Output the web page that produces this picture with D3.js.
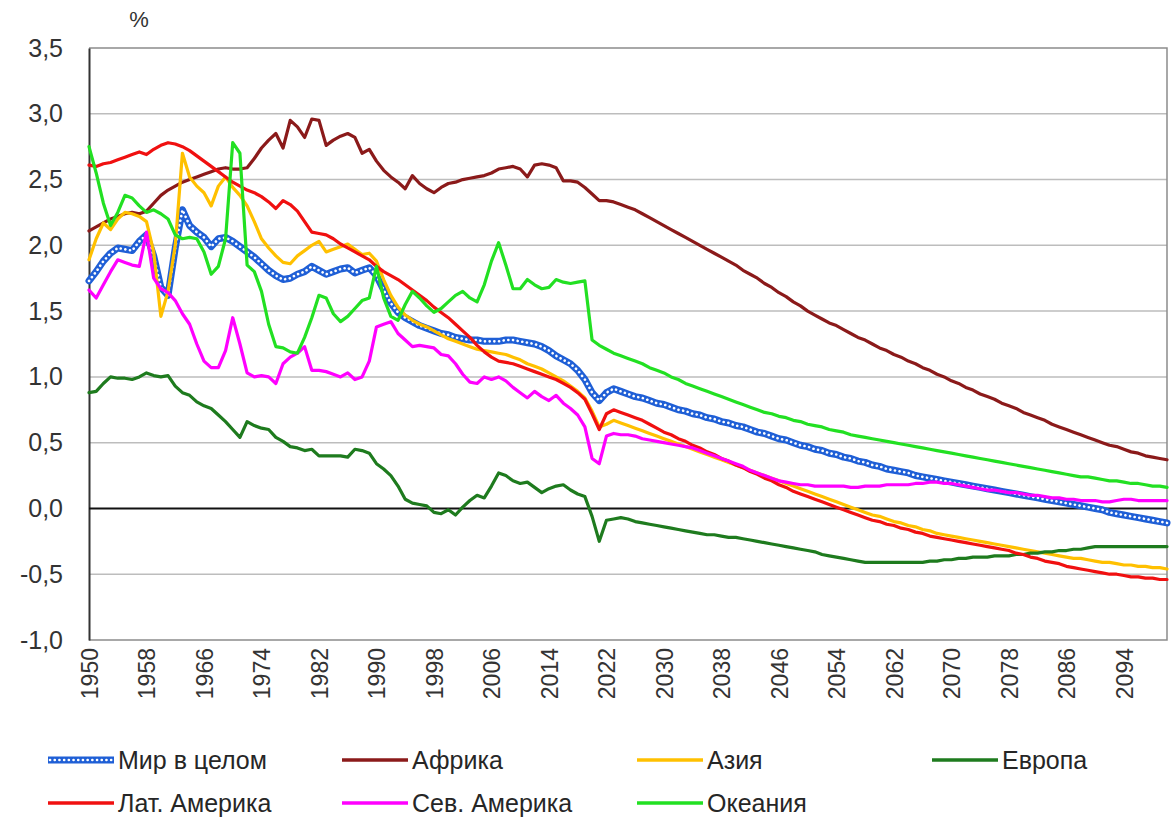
<!DOCTYPE html>
<html>
<head>
<meta charset="utf-8">
<script src="https://cdn.jsdelivr.net/npm/d3@7/dist/d3.min.js"></script>
<style>
  html, body { margin: 0; padding: 0; background: #ffffff; }
  svg { display: block; font-family: "Liberation Sans", Arial, sans-serif; }
</style>
</head>
<body>
<svg id="chart" width="1173" height="822"></svg>
<script>
// ---------------- DATA ----------------
const years = d3.range(1950, 2101);
const xTickLabels = [1950,1958,1966,1974,1982,1990,1998,2006,2014,2022,2030,2038,2046,2054,2062,2070,2078,2086,2094];
const yTickLabels = [-1.0,-0.5,0.0,0.5,1.0,1.5,2.0,2.5,3.0,3.5];
const seriesNames = ["Мир в целом","Африка","Азия","Европа","Лат. Америка","Сев. Америка","Океания"];

const world = [
1.73,1.80,1.88,1.94,1.98,1.97,1.96,2.03,2.08,1.92,
1.68,1.62,1.98,2.27,2.15,2.10,2.06,1.99,2.05,2.06,
2.03,1.99,1.95,1.91,1.86,1.81,1.77,1.74,1.75,1.78,
1.80,1.84,1.81,1.78,1.80,1.82,1.83,1.79,1.81,1.83,
1.77,1.66,1.56,1.49,1.45,1.42,1.39,1.37,1.35,1.33,
1.32,1.30,1.29,1.28,1.28,1.27,1.27,1.27,1.28,1.28,
1.27,1.26,1.25,1.23,1.20,1.16,1.13,1.10,1.05,0.98,
0.88,0.82,0.88,0.91,0.89,0.87,0.85,0.84,0.82,0.80,
0.79,0.77,0.75,0.74,0.72,0.71,0.69,0.68,0.66,0.65,
0.63,0.62,0.60,0.58,0.57,0.55,0.53,0.52,0.50,0.48,
0.47,0.45,0.44,0.42,0.41,0.39,0.38,0.36,0.35,0.33,
0.32,0.30,0.29,0.28,0.27,0.25,0.24,0.23,0.22,0.21,
0.20,0.19,0.18,0.17,0.16,0.15,0.14,0.13,0.12,0.11,
0.10,0.09,0.08,0.07,0.06,0.05,0.04,0.03,0.02,0.01,
0.00,-0.01,-0.03,-0.04,-0.05,-0.06,-0.07,-0.08,-0.09,-0.10,
-0.11];

const africa = [
2.11,2.14,2.17,2.20,2.22,2.24,2.25,2.24,2.26,2.32,
2.38,2.42,2.45,2.48,2.50,2.52,2.54,2.56,2.58,2.59,
2.58,2.58,2.59,2.66,2.74,2.80,2.85,2.74,2.95,2.90,
2.82,2.96,2.95,2.76,2.80,2.83,2.85,2.82,2.70,2.73,
2.64,2.57,2.52,2.48,2.43,2.53,2.47,2.43,2.40,2.44,
2.47,2.48,2.50,2.51,2.52,2.53,2.55,2.58,2.59,2.60,
2.58,2.52,2.61,2.62,2.61,2.59,2.49,2.49,2.48,2.44,
2.39,2.34,2.34,2.33,2.31,2.29,2.27,2.24,2.21,2.18,
2.15,2.12,2.09,2.06,2.03,2.00,1.97,1.94,1.91,1.88,
1.85,1.81,1.78,1.75,1.71,1.68,1.64,1.61,1.57,1.54,
1.50,1.47,1.44,1.41,1.39,1.36,1.33,1.30,1.28,1.25,
1.22,1.20,1.17,1.15,1.12,1.10,1.07,1.05,1.02,1.00,
0.97,0.95,0.92,0.90,0.87,0.85,0.83,0.80,0.78,0.76,
0.73,0.71,0.69,0.67,0.64,0.62,0.60,0.58,0.56,0.54,
0.52,0.50,0.48,0.47,0.45,0.43,0.42,0.40,0.39,0.38,
0.37];

const asia = [
1.89,2.05,2.17,2.12,2.20,2.25,2.24,2.22,2.18,1.95,
1.46,1.65,2.00,2.70,2.52,2.45,2.40,2.30,2.45,2.52,
2.44,2.38,2.30,2.18,2.05,1.98,1.92,1.87,1.86,1.92,
1.96,2.00,2.03,1.95,1.97,1.99,2.01,1.97,1.93,1.94,
1.88,1.74,1.62,1.53,1.47,1.43,1.40,1.38,1.35,1.32,
1.29,1.27,1.25,1.23,1.21,1.20,1.19,1.18,1.17,1.15,
1.13,1.10,1.08,1.06,1.03,1.00,0.97,0.93,0.89,0.84,
0.74,0.62,0.64,0.67,0.65,0.63,0.61,0.59,0.57,0.55,
0.53,0.51,0.49,0.47,0.45,0.43,0.41,0.39,0.37,0.35,
0.33,0.31,0.29,0.27,0.25,0.23,0.21,0.19,0.17,0.15,
0.13,0.11,0.09,0.07,0.05,0.03,0.01,-0.01,-0.03,-0.05,
-0.06,-0.08,-0.10,-0.11,-0.13,-0.14,-0.16,-0.17,-0.19,-0.20,
-0.21,-0.22,-0.23,-0.24,-0.25,-0.26,-0.27,-0.28,-0.29,-0.30,
-0.31,-0.32,-0.33,-0.34,-0.35,-0.36,-0.37,-0.38,-0.38,-0.39,
-0.40,-0.41,-0.41,-0.42,-0.43,-0.43,-0.44,-0.44,-0.45,-0.45,
-0.46];

const europe = [
0.88,0.89,0.95,1.00,0.99,0.99,0.98,1.00,1.03,1.01,
1.00,1.01,0.93,0.88,0.86,0.81,0.78,0.76,0.71,0.66,
0.60,0.54,0.66,0.63,0.61,0.60,0.54,0.51,0.47,0.46,
0.44,0.45,0.40,0.40,0.40,0.40,0.39,0.45,0.44,0.42,
0.34,0.30,0.25,0.17,0.07,0.04,0.03,0.02,-0.03,-0.04,
-0.01,-0.05,0.01,0.06,0.10,0.08,0.17,0.27,0.25,0.21,
0.19,0.20,0.16,0.12,0.15,0.17,0.18,0.14,0.11,0.09,
-0.06,-0.25,-0.09,-0.08,-0.07,-0.08,-0.10,-0.11,-0.12,-0.13,
-0.14,-0.15,-0.16,-0.17,-0.18,-0.19,-0.20,-0.20,-0.21,-0.22,
-0.22,-0.23,-0.24,-0.25,-0.26,-0.27,-0.28,-0.29,-0.30,-0.31,
-0.32,-0.33,-0.35,-0.36,-0.37,-0.38,-0.39,-0.40,-0.41,-0.41,
-0.41,-0.41,-0.41,-0.41,-0.41,-0.41,-0.41,-0.40,-0.40,-0.39,
-0.39,-0.38,-0.38,-0.37,-0.37,-0.37,-0.36,-0.36,-0.36,-0.35,
-0.35,-0.34,-0.34,-0.33,-0.33,-0.32,-0.32,-0.31,-0.31,-0.30,
-0.29,-0.29,-0.29,-0.29,-0.29,-0.29,-0.29,-0.29,-0.29,-0.29,
-0.29];

const latAmerica = [
2.61,2.60,2.62,2.63,2.65,2.67,2.69,2.71,2.69,2.73,
2.76,2.78,2.77,2.75,2.72,2.68,2.64,2.60,2.56,2.52,
2.48,2.45,2.42,2.40,2.37,2.33,2.28,2.34,2.31,2.26,
2.18,2.10,2.09,2.08,2.05,2.01,1.98,1.95,1.92,1.89,
1.84,1.80,1.77,1.74,1.70,1.66,1.62,1.58,1.53,1.49,
1.45,1.40,1.35,1.30,1.24,1.19,1.15,1.12,1.11,1.10,
1.08,1.06,1.04,1.02,1.00,0.98,0.95,0.92,0.88,0.83,
0.72,0.60,0.72,0.75,0.73,0.71,0.69,0.67,0.64,0.61,
0.58,0.56,0.53,0.51,0.48,0.46,0.43,0.41,0.38,0.36,
0.33,0.31,0.28,0.26,0.23,0.21,0.18,0.16,0.13,0.11,
0.09,0.07,0.05,0.03,0.01,-0.01,-0.03,-0.05,-0.07,-0.09,
-0.10,-0.12,-0.13,-0.15,-0.16,-0.18,-0.19,-0.21,-0.22,-0.23,
-0.24,-0.25,-0.26,-0.27,-0.28,-0.29,-0.30,-0.31,-0.32,-0.34,
-0.35,-0.37,-0.38,-0.40,-0.41,-0.42,-0.44,-0.45,-0.46,-0.47,
-0.48,-0.49,-0.50,-0.50,-0.51,-0.52,-0.52,-0.53,-0.53,-0.54,
-0.54];

const northAmerica = [
1.66,1.60,1.70,1.80,1.89,1.87,1.85,1.84,2.10,1.75,
1.67,1.64,1.58,1.48,1.40,1.25,1.12,1.07,1.07,1.20,
1.45,1.25,1.03,1.00,1.01,1.00,0.95,1.10,1.15,1.18,
1.23,1.05,1.05,1.04,1.02,1.00,1.03,0.98,1.00,1.12,
1.38,1.40,1.42,1.33,1.28,1.23,1.24,1.23,1.22,1.17,
1.16,1.10,1.02,0.96,0.95,1.00,0.98,1.00,0.97,0.92,
0.88,0.84,0.89,0.85,0.82,0.86,0.80,0.76,0.71,0.62,
0.38,0.34,0.55,0.57,0.56,0.56,0.55,0.53,0.52,0.51,
0.50,0.49,0.48,0.47,0.46,0.44,0.42,0.40,0.38,0.36,
0.34,0.32,0.29,0.27,0.25,0.23,0.21,0.20,0.19,0.18,
0.18,0.17,0.17,0.17,0.17,0.17,0.16,0.16,0.17,0.17,
0.17,0.18,0.18,0.18,0.18,0.19,0.19,0.20,0.20,0.19,
0.19,0.18,0.17,0.16,0.15,0.14,0.14,0.13,0.12,0.12,
0.11,0.10,0.10,0.09,0.08,0.08,0.07,0.07,0.06,0.06,
0.06,0.05,0.05,0.06,0.07,0.07,0.06,0.06,0.06,0.06,
0.06];

const oceania = [
2.75,2.55,2.32,2.15,2.25,2.38,2.36,2.30,2.25,2.27,
2.24,2.20,2.08,2.05,2.06,2.05,1.95,1.78,1.84,2.05,
2.78,2.70,1.85,1.80,1.65,1.40,1.23,1.22,1.19,1.18,
1.30,1.45,1.62,1.60,1.48,1.42,1.46,1.52,1.58,1.60,
1.84,1.60,1.46,1.43,1.55,1.65,1.60,1.54,1.49,1.52,
1.57,1.62,1.65,1.60,1.57,1.70,1.88,2.02,1.85,1.67,
1.67,1.74,1.70,1.67,1.68,1.74,1.72,1.71,1.72,1.73,
1.28,1.24,1.21,1.18,1.16,1.14,1.12,1.10,1.07,1.05,
1.03,1.00,0.98,0.95,0.93,0.91,0.89,0.87,0.85,0.83,
0.81,0.79,0.77,0.75,0.73,0.72,0.70,0.69,0.67,0.66,
0.64,0.63,0.62,0.60,0.59,0.58,0.56,0.55,0.54,0.53,
0.52,0.51,0.50,0.49,0.48,0.47,0.46,0.45,0.44,0.43,
0.42,0.41,0.40,0.39,0.38,0.37,0.36,0.35,0.34,0.33,
0.32,0.31,0.30,0.29,0.28,0.27,0.26,0.25,0.24,0.24,
0.23,0.22,0.21,0.21,0.20,0.19,0.19,0.18,0.17,0.17,
0.16];

const seriesValues = [world, africa, asia, europe, latAmerica, northAmerica, oceania];
const seriesColors = ["#1F5FD6","#8B1A1A","#FFC000","#1E7B1E","#F01010","#FF00FF","#22E022"];

// ---------------- LAYOUT ----------------
const svg = d3.select("#chart");
const plot = {left: 89, right: 1167, top: 48, bottom: 640};
const x = d3.scaleLinear().domain([1950, 2100]).range([plot.left, plot.right]);
const y = d3.scaleLinear().domain([-1, 3.5]).range([plot.bottom, plot.top]);

svg.append("rect").attr("width", 1173).attr("height", 822).attr("fill", "#ffffff");

// gridlines
svg.append("g").selectAll("line")
  .data(yTickLabels.filter(v => v > -1 && v < 3.5 && v !== 0))
  .join("line")
  .attr("x1", plot.left).attr("x2", plot.right)
  .attr("y1", d => y(d)).attr("y2", d => y(d))
  .attr("stroke", "#BDBDBD").attr("stroke-width", 1.5);

// plot border (top, right, bottom)
svg.append("path")
  .attr("d", `M${plot.left},${y(3.5)}H${plot.right}V${y(-1)}H${plot.left}`)
  .attr("fill", "none").attr("stroke", "#8C8C8C").attr("stroke-width", 1.5);

// y axis
const yAxis = svg.append("g")
  .attr("transform", `translate(${plot.left},0)`)
  .call(d3.axisLeft(y).tickValues(yTickLabels).tickSize(0).tickPadding(26)
    .tickFormat(d => d.toFixed(1).replace(".", ",")));
yAxis.select(".domain").attr("stroke", "#333333").attr("stroke-width", 2);
yAxis.selectAll("text").attr("font-size", 25).attr("fill", "#333333")
  .attr("font-family", "'Liberation Sans', Arial, sans-serif");

// zero line
svg.append("line")
  .attr("x1", plot.left).attr("x2", plot.right)
  .attr("y1", y(0)).attr("y2", y(0))
  .attr("stroke", "#111111").attr("stroke-width", 2);

// x axis labels
const xAxis = svg.append("g")
  .attr("transform", `translate(0,${plot.bottom})`)
  .call(d3.axisBottom(x).tickValues(xTickLabels).tickSize(0).tickFormat(d3.format("d")));
xAxis.select(".domain").remove();
xAxis.selectAll("text")
  .attr("font-size", 23).attr("fill", "#333333")
  .attr("font-family", "'Liberation Sans', Arial, sans-serif")
  .attr("text-anchor", "end")
  .attr("transform", "rotate(-90)")
  .attr("x", -8).attr("y", 0).attr("dy", "0.36em");

// "%" label
svg.append("text").attr("x", 139).attr("y", 27)
  .attr("text-anchor", "middle").attr("font-size", 22).attr("fill", "#333333")
  .text("%");

// lines
const line = d3.line().x((d, i) => x(years[i])).y(d => y(d));
const linesG = svg.append("g").attr("stroke-linejoin", "round").attr("stroke-linecap", "round");
seriesValues.forEach((vals, i) => {
  if (i === 0) {
    linesG.append("path").attr("d", line(vals)).attr("fill", "none")
      .attr("stroke", seriesColors[0]).attr("stroke-width", 7);
    linesG.append("path").attr("d", line(vals)).attr("fill", "none")
      .attr("stroke", "#ffffff").attr("stroke-width", 2.6)
      .attr("stroke-dasharray", "0.1 4.6").attr("stroke-linecap", "round");
  } else {
    linesG.append("path").attr("d", line(vals)).attr("fill", "none")
      .attr("stroke", seriesColors[i]).attr("stroke-width", 3.2);
  }
});

// legend
const legendCols = [48, 342, 637, 932];
const legendRows = [760, 803];
const legendPos = [[0,0],[1,0],[2,0],[3,0],[0,1],[1,1],[2,1]];
const lg = svg.append("g");
seriesNames.forEach((name, i) => {
  const cx = legendCols[legendPos[i][0]], cy = legendRows[legendPos[i][1]];
  if (i === 0) {
    lg.append("line").attr("x1", cx).attr("x2", cx + 66).attr("y1", cy).attr("y2", cy)
      .attr("stroke", seriesColors[0]).attr("stroke-width", 7);
    lg.append("line").attr("x1", cx + 2).attr("x2", cx + 64).attr("y1", cy).attr("y2", cy)
      .attr("stroke", "#ffffff").attr("stroke-width", 2.6)
      .attr("stroke-dasharray", "0.1 4.6").attr("stroke-linecap", "round");
  } else {
    lg.append("line").attr("x1", cx).attr("x2", cx + 66).attr("y1", cy).attr("y2", cy)
      .attr("stroke", seriesColors[i]).attr("stroke-width", 3.5);
  }
  lg.append("text").attr("x", cx + 70).attr("y", cy).attr("dy", "0.35em")
    .attr("font-size", 25).attr("fill", "#262626").text(name);
});
</script>
</body>
</html>
